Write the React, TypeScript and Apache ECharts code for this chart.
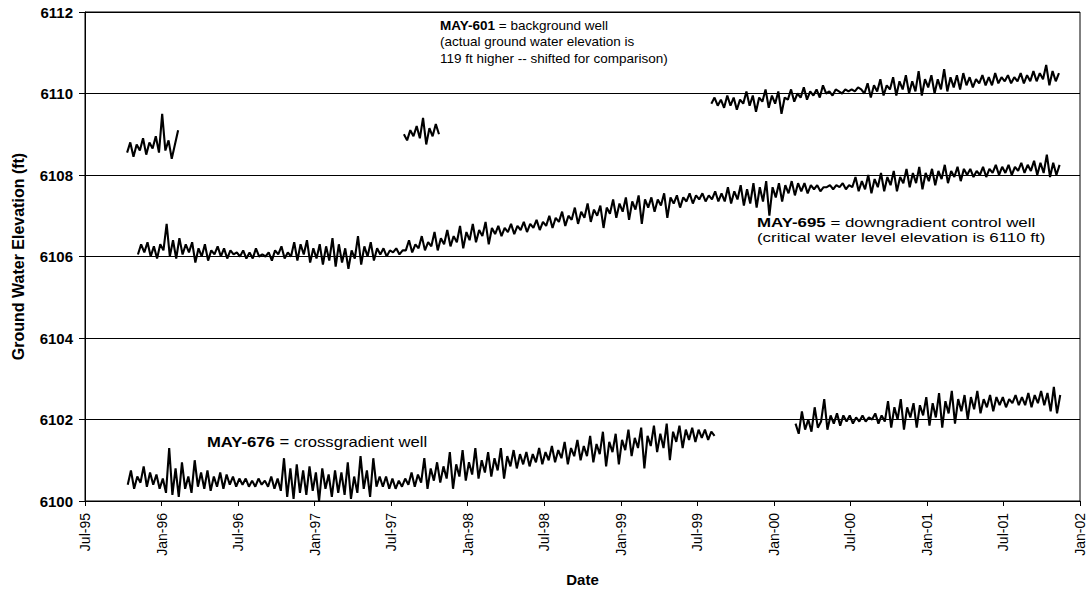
import React, { useEffect, useRef } from "react";
import * as echarts from "echarts";

// x values are months since 1 Jul 1995; each segment is sampled every STEP months
const STEP = 0.25;
const TICK_LABELS = ["Jul-95", "Jan-96", "Jul-96", "Jan-97", "Jul-97", "Jan-98", "Jul-98", "Jan-99", "Jul-99", "Jan-00", "Jul-00", "Jan-01", "Jul-01", "Jan-02"];
const Y_MIN = 6100;
const Y_MAX = 6112;
const Y_STEP = 2;

// MAY-601 background well (shifted), three segments
const MAY601_A_START = 3.3;
const MAY601_A = [6108.55, 6108.8, 6108.45, 6108.75, 6108.6, 6108.9, 6108.5, 6108.8, 6108.65, 6108.95, 6108.55, 6109.5, 6108.6, 6108.85, 6108.4, 6108.75, 6109.1];
const MAY601_B_START = 25.0;
const MAY601_B = [6109.0, 6108.85, 6109.1, 6108.95, 6109.2, 6108.9, 6109.4, 6108.75, 6109.15, 6108.95, 6109.25, 6109.0];
const MAY601_C_START = 49.1;
const MAY601_C = [
  6109.75, 6109.9, 6109.7, 6109.85, 6109.65, 6109.95, 6109.7, 6109.9, 6109.6, 6109.85, 6109.75, 6110.05,
  6109.7, 6109.95, 6109.55, 6109.9, 6109.8, 6110.1, 6109.65, 6109.95, 6109.75, 6110.05, 6109.5, 6109.9,
  6109.85, 6110.1, 6109.8, 6110.0, 6109.9, 6110.15, 6109.85, 6110.05, 6109.95, 6110.1, 6109.9, 6110.2,
  6110.0, 6110.05, 6109.95, 6110.1, 6110.05, 6110.0, 6110.1, 6110.05, 6110.1, 6110.05, 6110.15, 6110.1,
  6110.0, 6110.25, 6109.9, 6110.2, 6110.05, 6110.35, 6109.95, 6110.2, 6110.1, 6110.4, 6109.95, 6110.3,
  6110.1, 6110.45, 6110.0, 6110.3, 6110.05, 6110.55, 6109.95, 6110.35, 6110.15, 6110.45, 6110.0, 6110.35,
  6110.1, 6110.6, 6110.05, 6110.4, 6110.15, 6110.45, 6110.1, 6110.5, 6110.2, 6110.4, 6110.15, 6110.35,
  6110.25, 6110.45, 6110.2, 6110.4, 6110.2, 6110.5, 6110.25, 6110.4, 6110.3, 6110.45, 6110.25, 6110.4,
  6110.3, 6110.5, 6110.25, 6110.45, 6110.3, 6110.55, 6110.3, 6110.5, 6110.35, 6110.7, 6110.2, 6110.55,
  6110.3, 6110.5,
];

// MAY-695 downgradient control well
const MAY695_START = 4.15;
const MAY695 = [
  6106.05, 6106.3, 6106.1, 6106.35, 6106.0, 6106.25, 6105.95, 6106.3, 6106.15, 6106.8, 6106.0, 6106.4,
  6105.95, 6106.45, 6106.05, 6106.3, 6106.1, 6106.35, 6105.85, 6106.2, 6106.0, 6106.3, 6105.9, 6106.15,
  6106.05, 6106.25, 6106.0, 6106.2, 6105.95, 6106.15, 6106.05, 6106.1, 6106.0, 6106.15, 6105.95, 6106.1,
  6105.95, 6106.2, 6106.0, 6106.05, 6106.0, 6106.1, 6105.9, 6106.15, 6106.05, 6106.25, 6105.95, 6106.1,
  6106.0, 6106.35, 6105.9, 6106.3, 6106.05, 6106.4, 6105.85, 6106.2, 6105.95, 6106.3, 6105.8, 6106.25,
  6105.9, 6106.45, 6105.75, 6106.3, 6105.85, 6106.2, 6105.7, 6106.15, 6105.95, 6106.5, 6105.8, 6106.25,
  6106.0, 6106.35, 6105.9, 6106.2, 6106.05, 6106.2, 6106.0, 6106.15, 6106.1, 6106.2, 6106.05, 6106.15,
  6106.15, 6106.4, 6106.1, 6106.3, 6106.2, 6106.5, 6106.15, 6106.35, 6106.25, 6106.6, 6106.15, 6106.45,
  6106.3, 6106.65, 6106.25, 6106.5, 6106.35, 6106.75, 6106.2, 6106.6, 6106.4, 6106.8, 6106.35, 6106.65,
  6106.5, 6106.85, 6106.3, 6106.7, 6106.55, 6106.75, 6106.5, 6106.7, 6106.6, 6106.8, 6106.55, 6106.75,
  6106.65, 6106.85, 6106.6, 6106.8, 6106.7, 6106.9, 6106.65, 6106.85, 6106.75, 6107.0, 6106.7, 6106.95,
  6106.85, 6107.1, 6106.75, 6107.0, 6106.9, 6107.2, 6106.8, 6107.1, 6106.95, 6107.3, 6106.85, 6107.15,
  6107.0, 6107.25, 6106.7, 6107.2, 6107.05, 6107.4, 6106.95, 6107.3, 6107.1, 6107.45, 6106.9, 6107.35,
  6107.15, 6107.5, 6106.8, 6107.4, 6107.2, 6107.45, 6107.1, 6107.4, 6107.25, 6107.55, 6106.95, 6107.45,
  6107.3, 6107.5, 6107.2, 6107.45, 6107.35, 6107.55, 6107.3, 6107.5, 6107.4, 6107.55, 6107.35, 6107.5,
  6107.4, 6107.6, 6107.35, 6107.55, 6107.35, 6107.7, 6107.3, 6107.6, 6107.4, 6107.75, 6107.25, 6107.65,
  6107.3, 6107.8, 6107.2, 6107.7, 6107.35, 6107.85, 6107.0, 6107.7, 6107.45, 6107.8, 6107.35, 6107.75,
  6107.55, 6107.85, 6107.5, 6107.8, 6107.6, 6107.8, 6107.55, 6107.75, 6107.65, 6107.75, 6107.6, 6107.7,
  6107.7, 6107.75, 6107.65, 6107.75, 6107.7, 6107.8, 6107.65, 6107.75, 6107.7, 6107.95, 6107.6, 6107.85,
  6107.65, 6108.0, 6107.55, 6107.9, 6107.7, 6108.05, 6107.6, 6107.95, 6107.75, 6108.1, 6107.6, 6107.95,
  6107.8, 6108.15, 6107.7, 6108.05, 6107.8, 6108.2, 6107.65, 6108.05, 6107.85, 6108.15, 6107.75, 6108.1,
  6107.9, 6108.25, 6107.8, 6108.1, 6107.95, 6108.2, 6107.85, 6108.15, 6108.0, 6108.15, 6107.95, 6108.1,
  6108.0, 6108.2, 6107.95, 6108.15, 6108.05, 6108.25, 6108.0, 6108.2, 6108.05, 6108.25, 6108.0, 6108.2,
  6108.1, 6108.3, 6108.05, 6108.25, 6108.1, 6108.35, 6108.0, 6108.3, 6108.05, 6108.5, 6107.95, 6108.3,
  6108.0, 6108.25,
];

// MAY-676 crossgradient well, two segments
const MAY676_A_START = 3.35;
const MAY676_A = [
  6100.4, 6100.75, 6100.3, 6100.6, 6100.45, 6100.85, 6100.35, 6100.7, 6100.4, 6100.65, 6100.3, 6100.55,
  6100.2, 6101.3, 6100.15, 6100.8, 6100.1, 6100.95, 6100.3, 6100.6, 6100.2, 6101.0, 6100.35, 6100.7,
  6100.3, 6100.75, 6100.25, 6100.6, 6100.35, 6100.7, 6100.3, 6100.65, 6100.4, 6100.6, 6100.35, 6100.55,
  6100.4, 6100.55, 6100.35, 6100.5, 6100.35, 6100.55, 6100.4, 6100.5, 6100.35, 6100.6, 6100.3, 6100.55,
  6100.25, 6101.05, 6100.1, 6100.8, 6100.05, 6100.9, 6100.2, 6100.75, 6100.15, 6100.85, 6100.25, 6100.7,
  6100.0, 6100.8, 6100.3, 6100.65, 6100.1, 6100.75, 6100.2, 6100.7, 6100.15, 6100.95, 6100.05, 6100.6,
  6100.2, 6101.1, 6100.3, 6100.75, 6100.1, 6101.05, 6100.35, 6100.6, 6100.35, 6100.6, 6100.3, 6100.55,
  6100.3, 6100.5, 6100.35, 6100.55, 6100.4, 6100.7, 6100.35, 6100.65, 6100.45, 6101.05, 6100.3, 6100.8,
  6100.5, 6100.95, 6100.45, 6100.85, 6100.55, 6101.2, 6100.3, 6100.9, 6100.6, 6101.25, 6100.5, 6100.95,
  6100.65, 6101.3, 6100.55, 6101.0, 6100.7, 6101.2, 6100.6, 6101.05, 6100.75, 6101.3, 6100.55, 6101.1,
  6100.85, 6101.25, 6100.8, 6101.15, 6100.9, 6101.2, 6100.85, 6101.15, 6100.95, 6101.3, 6100.9, 6101.2,
  6101.0, 6101.35, 6100.95, 6101.25, 6101.05, 6101.45, 6100.9, 6101.3, 6101.1, 6101.5, 6101.0, 6101.35,
  6101.1, 6101.6, 6100.95, 6101.4, 6101.15, 6101.7, 6100.85, 6101.45, 6101.2, 6101.65, 6100.9, 6101.5,
  6101.25, 6101.75, 6101.1, 6101.55, 6101.3, 6101.8, 6100.8, 6101.6, 6101.35, 6101.85, 6101.2, 6101.65,
  6101.3, 6101.9, 6101.0, 6101.7, 6101.45, 6101.85, 6101.3, 6101.75, 6101.5, 6101.8, 6101.45, 6101.75,
  6101.55, 6101.75, 6101.5, 6101.7, 6101.6,
];
const MAY676_B_START = 55.7;
const MAY676_B = [
  6101.9, 6101.65, 6102.2, 6101.75, 6102.0, 6101.7, 6102.3, 6101.8, 6101.95, 6102.5, 6101.75, 6102.1,
  6101.9, 6102.15, 6101.85, 6102.1, 6101.95, 6102.1, 6101.9, 6102.05, 6101.95, 6102.1, 6101.95, 6102.05,
  6102.0, 6102.15, 6101.9, 6102.1, 6101.95, 6102.45, 6101.8, 6102.3, 6102.0, 6102.5, 6101.75, 6102.3,
  6102.05, 6102.4, 6101.8, 6102.35, 6102.1, 6102.55, 6101.85, 6102.4, 6102.05, 6102.65, 6101.8, 6102.45,
  6102.15, 6102.7, 6101.9, 6102.5, 6102.2, 6102.6, 6102.0, 6102.55, 6102.25, 6102.7, 6102.15, 6102.5,
  6102.3, 6102.6, 6102.2, 6102.55, 6102.35, 6102.55, 6102.3, 6102.5, 6102.4, 6102.6, 6102.35, 6102.55,
  6102.35, 6102.65, 6102.3, 6102.6, 6102.4, 6102.7, 6102.35, 6102.65, 6102.2, 6102.8, 6102.15, 6102.6,
];

const FONT = '"Liberation Sans", Arial, Helvetica, sans-serif';

function seg(start: number, vals: number[]) {
  return vals.map((v, i) => [start + i * STEP, v]);
}

function lineSeries(name: string, data: number[][]) {
  return {
    name,
    type: "line",
    data,
    showSymbol: false,
    symbol: "none",
    lineStyle: { color: "#000", width: 2.1 },
    silent: true,
  };
}

function note(left: number, top: number, text: string, size: number, lh: number, sx: number) {
  return {
    type: "text",
    x: left,
    y: top,
    scaleX: sx,
    scaleY: 1,
    style: {
      text,
      fontFamily: FONT,
      fontSize: size,
      lineHeight: lh,
      fill: "#000",
      rich: { b: { fontFamily: FONT, fontSize: size, fontWeight: "bold", lineHeight: lh, fill: "#000" } },
    },
  };
}

export default function App() {
  const ref = useRef<HTMLDivElement>(null);
  useEffect(() => {
    if (!ref.current) return;
    const chart = echarts.init(ref.current, null, { renderer: "svg" });
    chart.setOption({
      animation: false,
      backgroundColor: "#fff",
      grid: {
        left: 85,
        right: 2,
        top: 12,
        bottom: 86,
        show: true,
        borderColor: "#000",
        borderWidth: 1,
        backgroundColor: "transparent",
      },
      xAxis: {
        type: "value",
        min: 0,
        max: (TICK_LABELS.length - 1) * 6,
        interval: 6,
        name: "Date",
        nameLocation: "middle",
        nameGap: 71,
        nameTextStyle: { fontFamily: FONT, fontSize: 15, fontWeight: "bold", color: "#000" },
        axisLine: { lineStyle: { color: "#000", width: 1 } },
        axisTick: { show: true, length: 5, lineStyle: { color: "#000" } },
        splitLine: { show: false },
        axisLabel: {
          rotate: 90,
          margin: 12,
          fontFamily: FONT,
          fontSize: 14,
          color: "#000",
          showMaxLabel: true,
          formatter: (v: number) => TICK_LABELS[Math.round(v / 6)] ?? "",
        },
      },
      yAxis: {
        type: "value",
        min: Y_MIN,
        max: Y_MAX,
        interval: Y_STEP,
        name: "Ground Water Elevation (ft)",
        nameLocation: "middle",
        nameGap: 59,
        nameTextStyle: { fontFamily: FONT, fontSize: 16, fontWeight: "bold", color: "#000" },
        axisLine: { show: true, lineStyle: { color: "#000", width: 1 } },
        axisTick: { show: true, length: 6, lineStyle: { color: "#000" } },
        splitLine: { show: true, lineStyle: { color: "#000", width: 1 } },
        axisLabel: {
          margin: 12,
          fontFamily: FONT,
          fontSize: 15,
          fontWeight: "bold",
          color: "#000",
          formatter: (v: number) => String(v),
        },
      },
      series: [
        lineSeries("MAY-601", seg(MAY601_A_START, MAY601_A)),
        lineSeries("MAY-601", seg(MAY601_B_START, MAY601_B)),
        lineSeries("MAY-601", seg(MAY601_C_START, MAY601_C)),
        lineSeries("MAY-695", seg(MAY695_START, MAY695)),
        lineSeries("MAY-676", seg(MAY676_A_START, MAY676_A)),
        lineSeries("MAY-676", seg(MAY676_B_START, MAY676_B)),
      ],
      graphic: [
        note(440, 17, "{b|MAY-601} = background well\n(actual ground water elevation is\n119 ft higher -- shifted for comparison)", 13.5, 16.5, 1.0),
        note(757, 214, "{b|MAY-695} = downgradient control well\n(critical water level elevation is 6110 ft)", 13.5, 15.6, 1.25),
        note(207, 434, "{b|MAY-676} = crossgradient well", 14, 16, 1.19),
      ],
    });
    return () => chart.dispose();
  }, []);
  return (
    <div
      ref={ref}
      style={{ position: "fixed", left: 0, top: 0, width: 1087, height: 592, background: "#fff" }}
    />
  );
}
